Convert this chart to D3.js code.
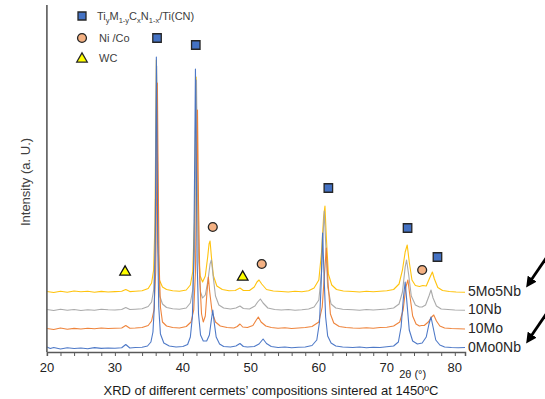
<!DOCTYPE html>
<html>
<head>
<meta charset="utf-8">
<script src="https://cdn.jsdelivr.net/npm/d3@7/dist/d3.min.js"></script>
<style>
  html, body { margin: 0; padding: 0; background: #fff; }
  svg { display: block; font-family: Arial, "Liberation Sans", sans-serif; }
</style>
</head>
<body>
<svg id="chart" width="545" height="399"></svg>
<script>
// ---------------- DATA ----------------
const seriesNames = ["5Mo5Nb", "10Nb", "10Mo", "0Mo0Nb"];
const seriesColors = ["#FFC000", "#A5A5A5", "#ED7D31", "#4472C4"];
// baseline intensity level of each stacked pattern (a.u., offset included)
const labelLevels = [600, 420, 230, 40];

const xTickLabels = [20, 30, 40, 50, 60, 70, 80];
const xMinorTicks = [20,22,24,26,28,30,32,34,36,38,40,42,44,46,48,50,52,54,56,58,60,62,64,66,68,70,72,74,76,78,80];

// [2θ, intensity]
const s5Mo5Nb = [[20,605],[21,595],[22,608],[23,598],[24,610],[25,602],[26,608],[27,598],[28,606],[29,600],[30,604],[31,608],[31.6,625],[32.2,604],[33,608],[34,612],[34.9,635],[35.4,690],[35.7,820],[35.9,1300],[36.02,2300],[36.1,2920],[36.2,2200],[36.35,1100],[36.55,720],[37,650],[37.6,625],[38.5,612],[39.5,608],[40.5,620],[41.1,670],[41.45,800],[41.7,1300],[41.85,2200],[41.95,2750],[42.08,2000],[42.3,1000],[42.55,760],[42.9,700],[43.3,760],[43.65,950],[43.85,1080],[44.0,1110],[44.2,950],[44.5,760],[45,660],[45.8,625],[46.8,612],[47.7,615],[48.4,640],[48.9,615],[49.8,615],[50.5,650],[50.9,700],[51.2,720],[51.6,680],[52.3,625],[53.3,610],[54.5,605],[55.5,600],[56.5,608],[57.5,603],[58.5,612],[59.3,640],[60,720],[60.4,1000],[60.7,1350],[60.9,1460],[61.1,1150],[61.4,780],[61.9,670],[62.6,625],[63.6,610],[65,605],[66,600],[67,607],[68,602],[69,608],[70,612],[71,625],[71.8,680],[72.3,820],[72.7,1000],[73.0,1070],[73.3,900],[73.7,720],[74.2,665],[74.8,655],[75.3,665],[75.8,660],[76.3,740],[76.7,800],[77.0,730],[77.5,645],[78.2,615],[79.2,605],[80.2,600],[81.5,598]];

const s10Nb = [[20,425],[21,415],[22,428],[23,418],[24,425],[25,415],[26,422],[27,418],[28,428],[29,422],[30,420],[31,425],[31.6,445],[32.2,425],[33,428],[34,432],[34.9,455],[35.4,500],[35.7,620],[35.9,1000],[36.05,2000],[36.15,2860],[36.25,2100],[36.4,1000],[36.6,560],[37,480],[37.6,445],[38.5,432],[39.5,428],[40.5,440],[41.1,490],[41.45,620],[41.7,1000],[41.9,2000],[42.0,2720],[42.12,1900],[42.35,900],[42.6,600],[42.9,540],[43.3,570],[43.7,720],[44.0,880],[44.2,920],[44.45,760],[44.8,560],[45.3,470],[46,440],[47,430],[47.8,440],[48.4,460],[48.9,435],[49.8,430],[50.6,460],[51.0,500],[51.4,530],[51.8,490],[52.5,440],[53.5,425],[54.5,420],[55.5,425],[56.5,418],[57.5,422],[58.5,430],[59.3,450],[60,520],[60.4,800],[60.65,1200],[60.8,1410],[61,1100],[61.3,650],[61.8,480],[62.5,440],[63.5,428],[65,422],[66,418],[67,425],[68,420],[69,425],[70,430],[71,440],[71.8,480],[72.3,600],[72.7,850],[72.9,920],[73.2,780],[73.6,560],[74.2,470],[74.8,450],[75.2,450],[75.7,470],[76.2,560],[76.5,620],[76.8,540],[77.3,460],[78,430],[79,425],[80,420],[81.5,418]];

const s10Mo = [[20,235],[21,225],[22,240],[23,228],[24,236],[25,230],[26,238],[27,232],[28,240],[29,235],[30,238],[31,240],[31.6,265],[32.2,238],[33,240],[34,245],[34.9,265],[35.4,310],[35.75,420],[36.0,800],[36.15,1700],[36.25,2690],[36.35,1900],[36.5,900],[36.7,450],[37,300],[37.6,260],[38.5,245],[39.5,240],[40.5,255],[41.2,300],[41.6,420],[41.85,800],[42.0,1600],[42.15,2420],[42.3,1500],[42.5,700],[42.75,380],[43.0,300],[43.3,360],[43.55,600],[43.75,750],[43.95,600],[44.3,400],[44.8,300],[45.5,260],[46.5,245],[47.5,240],[48.0,255],[48.4,280],[48.8,250],[49.5,245],[50.3,265],[50.8,320],[51.1,350],[51.5,300],[52.2,260],[53,245],[54,238],[55,242],[56,235],[57,240],[58,245],[59,255],[60,300],[60.5,450],[60.85,800],[61.1,1040],[61.35,700],[61.7,380],[62.2,290],[63,255],[64,245],[65,240],[66,238],[67,242],[68,238],[69,245],[70,248],[71,260],[71.9,300],[72.4,420],[72.8,650],[73.1,720],[73.4,560],[73.8,360],[74.3,280],[74.8,260],[75.1,265],[75.5,265],[76.1,300],[76.6,350],[76.9,370],[77.3,310],[77.8,260],[78.5,240],[79.5,235],[80.5,232],[81.5,230]];

const s0Mo0Nb = [[20,50],[20.5,35],[21,45],[22,30],[23,42],[24,35],[25,40],[26,32],[27,44],[28,36],[29,40],[30,38],[31,42],[31.6,75],[32.2,40],[33,45],[34,48],[34.8,60],[35.3,100],[35.6,200],[35.8,450],[35.95,1200],[36.05,2400],[36.1,2950],[36.18,2300],[36.3,1100],[36.45,450],[36.7,180],[37.2,90],[38,60],[39,50],[40,55],[40.7,75],[41.1,150],[41.4,350],[41.6,900],[41.75,2000],[41.85,2830],[41.95,2100],[42.1,900],[42.3,380],[42.6,170],[43,110],[43.5,110],[43.9,170],[44.15,300],[44.4,420],[44.6,300],[44.9,150],[45.4,80],[46,55],[47,50],[47.8,60],[48.4,85],[48.9,55],[49.5,50],[50.5,55],[51.2,80],[51.8,130],[52.3,85],[53,55],[54,45],[55,50],[56,42],[57,48],[58,50],[59,65],[59.7,120],[60.1,300],[60.35,700],[60.55,1190],[60.75,800],[61,350],[61.3,160],[61.8,90],[62.5,60],[63.5,50],[65,45],[66,50],[67,42],[68,48],[69,45],[70,52],[71,60],[71.7,100],[72.1,250],[72.45,550],[72.7,700],[72.95,500],[73.3,220],[73.8,110],[74.5,80],[75.2,90],[75.8,150],[76.2,280],[76.5,350],[76.8,250],[77.2,120],[77.8,70],[78.5,50],[79.5,45],[80.5,42],[81.5,45]];

const seriesData = [s5Mo5Nb, s10Nb, s10Mo, s0Mo0Nb];

// phase markers: [2θ, intensity]
const tiCNMarks = [[36.2,3140],[41.9,3070],[61.4,1640],[73.05,1240],[77.45,950]];
const niCoMarks = [[44.4,1250],[51.6,880],[75.2,820]];
const wcMarks = [[31.5,810],[48.8,760]];

const legendItems = ["TiCN", "Ni /Co", "WC"];

// ---------------- CHART ----------------
const svg = d3.select("#chart");
const x = d3.scaleLinear().domain([20, 81.5]).range([46.9, 465]);
const y = d3.scaleLinear().domain([0, 3470]).range([352, 5]);
const textColor = "#404040";
const axisColor = "#595959";

// lines
const line = d3.line().x(d => x(d[0])).y(d => y(d[1]));
svg.append("g").selectAll("path").data(seriesData).join("path")
  .attr("d", line)
  .attr("fill", "none")
  .attr("stroke", (d, i) => seriesColors[i])
  .attr("stroke-width", 1.1)
  .attr("stroke-linejoin", "round")
  .attr("opacity", 0.95);

// axes
const xAxis = d3.axisBottom(x).tickValues(xMinorTicks).tickSize(4).tickFormat("");
const gx = svg.append("g").attr("transform", `translate(0,${y(0)})`).call(xAxis);
gx.select(".domain").attr("stroke", axisColor).attr("stroke-width", 1.5);
gx.selectAll(".tick line").attr("stroke", axisColor).attr("stroke-width", 1);

svg.append("line")
  .attr("x1", x(20)).attr("x2", x(20))
  .attr("y1", y(3470)).attr("y2", y(0))
  .attr("stroke", axisColor).attr("stroke-width", 1.6);

svg.append("g").selectAll("text").data(xTickLabels).join("text")
  .attr("x", d => x(d)).attr("y", y(0) + 20)
  .attr("text-anchor", "middle")
  .attr("font-size", 13).attr("fill", "#222")
  .text(d => d);

// axis titles
svg.append("text")
  .attr("x", x(73.8)).attr("y", y(0) + 26)
  .attr("text-anchor", "middle").attr("font-size", 11).attr("fill", "#222")
  .text("2θ (°)");

svg.append("text")
  .attr("transform", `translate(30,${y(1700)}) rotate(-90)`)
  .attr("text-anchor", "middle").attr("font-size", 13).attr("fill", textColor)
  .text("Intensity (a. U.)");

svg.append("text")
  .attr("x", 271).attr("y", 395)
  .attr("text-anchor", "middle").attr("font-size", 13).attr("fill", "#1a1a1a")
  .text("XRD of different cermets’ compositions sintered at 1450ºC");

// series labels
const labels = svg.append("g").selectAll("text").data(seriesNames).join("text")
  .attr("x", 468).attr("y", (d, i) => y(labelLevels[i]) + 4)
  .attr("font-size", 14).attr("fill", "#262626")
  .text(d => d);

// arrows next to first and last label
const defs = svg.append("defs");
defs.append("marker").attr("id", "ah")
  .attr("viewBox", "0 0 10 10").attr("refX", 5).attr("refY", 5)
  .attr("markerWidth", 3.8).attr("markerHeight", 3.8).attr("orient", "auto")
  .append("path").attr("d", "M0,0 L10,5 L0,10 z").attr("fill", "#000");

[0, 3].forEach(i => {
  const node = labels.nodes()[i];
  const bb = node.getBBox();
  const tx = bb.x + bb.width + 6;
  const ty = y(labelLevels[i]) - 7;
  svg.append("line")
    .attr("x1", tx + 19).attr("y1", ty - 27)
    .attr("x2", tx + 2).attr("y2", ty - 2)
    .attr("stroke", "#000").attr("stroke-width", 2.8)
    .attr("marker-end", "url(#ah)");
});

// phase markers
const markStroke = "#262626";
svg.append("g").selectAll("path").data(tiCNMarks).join("path")
  .attr("d", d3.symbol(d3.symbolSquare, 72))
  .attr("transform", d => `translate(${x(d[0])},${y(d[1])})`)
  .attr("fill", "#4472C4").attr("stroke", markStroke).attr("stroke-width", 1.3);
svg.append("g").selectAll("path").data(niCoMarks).join("path")
  .attr("d", d3.symbol(d3.symbolCircle, 62))
  .attr("transform", d => `translate(${x(d[0])},${y(d[1])})`)
  .attr("fill", "#F4B183").attr("stroke", markStroke).attr("stroke-width", 1.3);
svg.append("g").selectAll("path").data(wcMarks).join("path")
  .attr("d", d3.symbol(d3.symbolTriangle, 48))
  .attr("transform", d => `translate(${x(d[0])},${y(d[1]) + 1})`)
  .attr("fill", "#FFFF00").attr("stroke", "#111").attr("stroke-width", 1.3);

// legend
const lg = svg.append("g");
const legY = [16, 38, 58];
const symTypes = [d3.symbolSquare, d3.symbolCircle, d3.symbolTriangle];
const symSize = [64, 62, 48];
const symFill = ["#4472C4", "#F4B183", "#FFFF00"];
legendItems.forEach((name, i) => {
  lg.append("path")
    .attr("d", d3.symbol(symTypes[i], symSize[i]))
    .attr("transform", `translate(82,${legY[i] + (i === 2 ? 1 : 0)})`)
    .attr("fill", symFill[i]).attr("stroke", markStroke).attr("stroke-width", 1.3);
});
const t0 = lg.append("text").attr("x", 97).attr("y", legY[0] + 4)
  .attr("font-size", 11).attr("fill", textColor);
const parts = [["Ti",0],["y",1],["M",0],["1-y",1],["C",0],["x",1],["N",0],["1-x",1],["/Ti(CN)",0]];
let sub = false;
parts.forEach(([s, isSub]) => {
  const ts = t0.append("tspan").text(s);
  if (isSub && !sub) { ts.attr("dy", 3).attr("font-size", 7.5); sub = true; }
  else if (isSub && sub) { ts.attr("font-size", 7.5); }
  else if (!isSub && sub) { ts.attr("dy", -3); sub = false; }
});
lg.append("text").attr("x", 99).attr("y", legY[1] + 4)
  .attr("font-size", 11).attr("fill", textColor).text(legendItems[1]);
lg.append("text").attr("x", 99).attr("y", legY[2] + 4)
  .attr("font-size", 11).attr("fill", textColor).text(legendItems[2]);
</script>
</body>
</html>
